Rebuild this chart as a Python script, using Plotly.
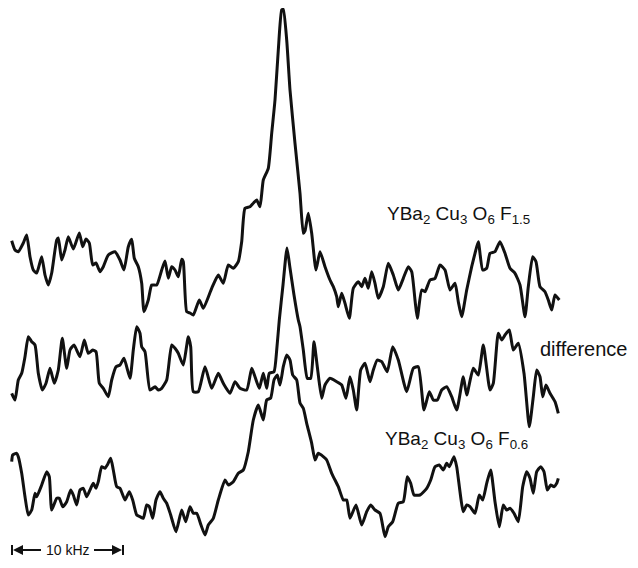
import plotly.graph_objects as go

# ---- data (x: frequency position, y: vertical position, downwards) ----
top_x = [11.7, 15, 18.3, 23.3, 26.7, 30, 33.3, 36.7, 41.7, 45, 48.3, 51.7, 56.7, 58.3, 61.7, 65, 68.3, 73.3,
         79.3, 82.7, 86, 89.3, 92.7, 96, 100, 103.3, 108.3, 115, 120, 124, 128.3, 131.7, 134.3, 138.3, 141.7,
         144, 148.3, 151.7, 156.7, 161.7, 165, 168.3, 171.7, 175, 178.3, 181.7, 183.3, 186.7, 190, 193.3,
         199.3, 203.3, 211.7, 218.3, 223.3, 228.3, 233.3, 238.3, 241.7, 245, 250, 253.5, 256.7, 260, 263.3,
         268.3, 271.7, 275, 278.3, 281.7, 283.3, 286.7, 290, 295, 300, 303.3, 305, 308.3, 311.7, 316, 320,
         325, 330, 333.3, 336.7, 338.3, 341.7, 345, 349.3, 353.3, 358.3, 361.7, 365, 368.3, 371.7, 375,
         378.3, 383.3, 388.3, 393.3, 398.3, 403.3, 408.3, 411.7, 415, 417.3, 421.7, 425, 430, 435, 440, 445,
         450, 455, 458.3, 461.7, 466.7, 471.7, 475, 478.3, 482.7, 486.7, 490, 495, 500, 505, 510, 515, 520,
         525, 528.3, 532.7, 536, 540, 545, 548.3, 551.7, 555, 559.3]
top_y = [240.7, 250, 251.7, 243, 235, 256.7, 270, 273, 256.7, 275, 285, 273, 240, 238, 260, 250, 236.7, 249,
         233, 246.7, 239, 243, 265, 263, 271.7, 266.7, 255, 251.7, 260, 270, 246.7, 239.3, 258.3, 266.7, 283.3,
         311.7, 300, 285, 285, 270, 261, 278.3, 266.7, 270, 276.7, 259.3, 261.7, 311.7, 313, 315,
         300, 308.3, 288.3, 275, 283.3, 265, 268.3, 261.7, 241.7, 208.3, 206.7, 203, 200, 206.7, 180,
         168.3, 133.3, 100, 50, 10, 9.3, 40, 90, 143.3, 193.3, 233.3, 231, 213.3, 233.3, 270, 251.7,
         266.7, 280, 286.7, 296.7, 306.7, 293.3, 303.3, 318.3, 288.3, 281.7, 286.7, 278.3, 288.3, 271.7, 283.3,
         298.3, 286.7, 263.3, 275, 290, 278.3, 266.7, 271.7, 300, 318.3, 290, 291.7, 280, 278.3, 265, 270,
         290, 283.3, 301.7, 316.7, 290, 266.7, 253.3, 241.7, 270, 268.3, 253.3, 251.7, 241.7, 253.3, 268.3, 273.3, 285,
         316.7, 286.7, 256.7, 261.7, 286.7, 291.7, 300, 310, 295, 300]

mid_x = [11.7, 15, 18.3, 21.7, 25, 28.3, 31.7, 35, 38.3, 42.3, 46, 50, 54.3, 58.3, 62.3, 66.7, 70, 74, 80,
         84.3, 88.3, 92.7, 96, 99.3, 103.3, 108.3, 111.7, 116, 120, 124, 130, 133.3, 136.7, 140, 141.7, 145,
         150, 155, 158.3, 161.7, 166.7, 171.7, 175, 178.3, 183.3, 188.3, 190.7, 193.3, 198.3, 205, 211.7,
         218.3, 223.3, 230, 235, 240, 246.7, 251.7, 255, 259.3, 263.3, 266.7, 269.3, 274, 276.7, 279.3,
         283, 287, 290, 294, 298.3, 300, 303.3, 307.3, 310.7, 314, 317.3, 321.7, 325, 330, 336.7, 341.7,
         346, 350, 353.3, 356.7, 360.7, 365, 370, 373.3, 377.3, 381.7, 387.3, 392.7, 398.3, 406.7, 413.3,
         418.3, 424, 429.3, 433.3, 437.3, 441.7, 446.7, 451.7, 456.7, 463.3, 466.7, 473.3, 478.3, 483.3,
         490, 493.3, 498.3, 501.7, 505, 509.3, 513.3, 518.3, 524, 529.3, 533.3, 536.7, 540, 542.7, 546,
         550, 555, 558.3]
mid_y = [393.3, 400, 380, 373.3, 356.7, 336.7, 341.7, 345, 373.3, 390, 383.3, 368.3, 383.3, 370, 338.3,
         368.3, 350, 345, 356.7, 340, 353.3, 350, 351.7, 383.3, 388.3, 396.7, 380, 366.7, 365, 358.3, 378.3,
         350, 326.7, 333.3, 346.7, 351.7, 390, 386.7, 390, 388.3, 380, 345, 348.3, 353.3, 365, 336.7, 346.7,
         391.7, 391.7, 366.7, 388.3, 373.3, 383.3, 393.3, 381.7, 388.3, 390, 368.3, 376.7, 388.3, 373.3,
         388.3, 373.3, 371.7, 350, 320, 285, 248, 268, 295, 320, 326.7, 350, 378.3, 378.3, 341.7, 366.7,
         398.3, 385, 378.3, 381.7, 385, 398.3, 376.7, 390, 410, 370, 363.3, 381.7, 370, 360, 361.7, 371.7,
         346.7, 360, 391.7, 368.3, 366.7, 410, 391.7, 400, 400, 390, 386.7, 396.7, 410, 376.7, 395, 368.3,
         375, 345, 390, 383.3, 333.3, 340, 335, 330, 350, 343.3, 373.3, 426.7, 396.7, 370, 376.7, 396.7,
         385, 393.3, 401.7, 413.3]

bot_x = [11.7, 12.7, 16.7, 18.3, 21.7, 25, 28.3, 31.7, 35, 36.7, 41.7, 46.7, 49.3, 51.7, 56.7, 59.3, 62.7,
         66.7, 70.7, 73.3, 76.7, 80, 83.3, 86.7, 90.7, 93.3, 96, 98.3, 101.7, 105, 107.3, 110.7, 113.3,
         116.7, 120, 125, 129.3, 132.7, 136.7, 140, 143.3, 146.7, 149.3, 152.7, 156, 160, 163.3, 166.7,
         170.7, 176, 181.7, 185.7, 190, 193.3, 196.7, 201, 205, 208.3, 213.3, 218.3, 225, 228.3, 233.3,
         238.3, 243.3, 248.3, 253.3, 258.3, 263.3, 266.7, 270.7, 274, 277.3, 280, 283.3, 286.7, 290,
         292.7, 296.7, 300, 303.3, 306.7, 311.7, 315, 318.3, 323.3, 326.7, 331.7, 338.3, 343.3, 346.7,
         350, 356, 361.7, 366.7, 370.7, 375, 380, 385, 388.3, 392.7, 398.3, 403.3, 407.3, 410.7, 414, 420,
         426.7, 430.7, 435, 439.3, 443.3, 446.7, 449.3, 454, 456.7, 463.3, 466.7, 470, 475, 479.3, 482.7,
         486.7, 490.7, 495, 499.3, 503.3, 506.7, 510, 514, 518.3, 522.7, 526.7, 530, 533.3, 536.7, 540.7,
         544, 547.3, 550.7, 554, 556.7, 558.3]
bot_y = [461.7, 455, 453.3, 456.7, 473.3, 496.7, 515, 510, 493.3, 496.7, 485, 471.7, 476.7, 510, 498.3,
         498.3, 506.7, 501.7, 490, 495, 505, 490, 488.3, 496.7, 488.3, 483.3, 488.3, 481.7, 466.7, 468.3,
         465, 458.3, 470, 486.7, 488.3, 500, 491.7, 500, 515, 516.7, 518.3, 505, 506.7, 518.3, 500, 491.7,
         498.3, 503.3, 515, 531.7, 510, 521.7, 506.7, 513.3, 513.3, 525, 535, 525, 518.3, 500, 480, 485,
         481.7, 473.3, 470, 451.7, 420, 405, 420, 400, 398, 380, 375, 385, 366.7, 355, 360, 375, 380, 403,
         408.3, 423.3, 443.3, 460, 453.3, 456.7, 460, 473.3, 486.7, 500, 500, 518.3, 505, 525, 511.7,
         505, 510, 513.3, 536.7, 526.7, 521.7, 503.3, 501.7, 476.7, 483.3, 495, 495, 488.3, 480, 466.7,
         465, 470, 463.3, 466.7, 456.7, 466.7, 511.7, 505, 506.7, 513.3, 495, 500, 483.3, 470, 501.7,
         526.7, 505, 510, 508.3, 513.3, 521.7, 486.7, 471.7, 478.3, 493.3, 471.7, 466.7, 471.7, 490, 485,
         486.7, 483.3, 478.3]

labels = ["YBa<sub>2</sub> Cu<sub>3</sub> O<sub>6</sub> F<sub>1.5</sub>",
          "difference",
          "YBa<sub>2</sub> Cu<sub>3</sub> O<sub>6</sub> F<sub>0.6</sub>"]
label_x = [385, 538, 383]
label_y = [215, 349, 440]
scale_text = "10 kHz"
scale_x = [12, 123]
scale_y = 550

LINE = dict(color="#111111", width=3, shape="spline", smoothing=0.5)
FONT = "Liberation Sans, Arial, sans-serif"

fig = go.Figure()
for xs, ys in [(top_x, top_y), (mid_x, mid_y), (bot_x, bot_y)]:
    fig.add_trace(go.Scatter(x=xs, y=ys, mode="lines", line=LINE, hoverinfo="skip", showlegend=False))

for t, x, y, s in zip(labels, label_x, label_y, [19, 20, 19]):
    fig.add_annotation(x=x, y=y, text=t, showarrow=False, xanchor="left", yanchor="middle",
                       font=dict(family=FONT, size=s, color="#111111"))

# scale bar
mid = (scale_x[0] + scale_x[1]) / 2
fig.add_annotation(x=mid, y=scale_y, text=scale_text, showarrow=False, xanchor="center", yanchor="middle",
                   font=dict(family=FONT, size=14, color="#111111"))
fig.add_annotation(x=scale_x[0] + 1, y=scale_y, ax=mid - 25, ay=scale_y, xref="x", yref="y",
                   axref="x", ayref="y", showarrow=True, arrowhead=2, arrowsize=1, arrowwidth=2,
                   arrowcolor="#111111", text="")
fig.add_annotation(x=scale_x[1] - 1, y=scale_y, ax=mid + 25, ay=scale_y, xref="x", yref="y",
                   axref="x", ayref="y", showarrow=True, arrowhead=2, arrowsize=1, arrowwidth=2,
                   arrowcolor="#111111", text="")
for sx in scale_x:
    fig.add_shape(type="line", x0=sx, x1=sx, y0=scale_y - 5, y1=scale_y + 5,
                  line=dict(color="#111111", width=2))

# the page body has an 8px margin, so the figure is 16px smaller and the ranges start at 8
fig.update_layout(
    width=622, height=552,
    margin=dict(l=0, r=0, t=0, b=0),
    paper_bgcolor="white", plot_bgcolor="white",
    xaxis=dict(range=[8, 630], visible=False, fixedrange=True),
    yaxis=dict(range=[560, 8], visible=False, fixedrange=True),
)

fig.write_html("out.html")
